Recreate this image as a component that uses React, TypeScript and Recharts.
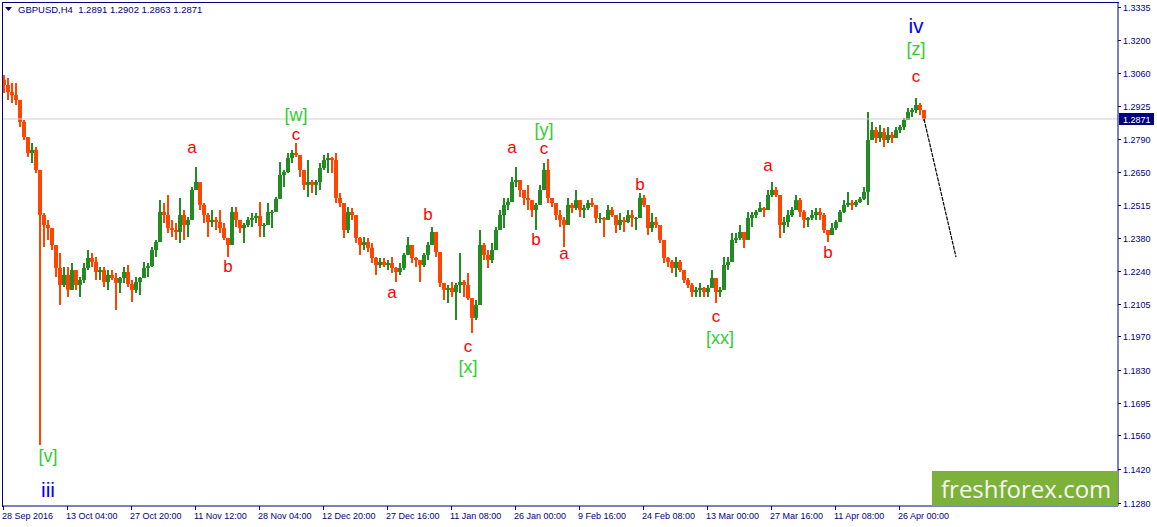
import { ComposedChart, Bar, Line, XAxis, YAxis, ReferenceLine, ReferenceDot } from "recharts"

// last H4 bar: open, high, low, close
const lastBar = [1.2891, 1.2902, 1.2863, 1.2871]
const firstOpen = 1.3033

// each bar = [high, low, close] (one bar here ~ four H4 candles), open = previous close
const octBars = [
  [1.3053, 1.2979, 1.3012], [1.3041, 1.295, 1.2983], [1.302, 1.2937, 1.297], [1.302, 1.2929, 1.295],
  [1.295, 1.2838, 1.2859], [1.2867, 1.2784, 1.2796], [1.2784, 1.2714, 1.273], [1.2772, 1.2689, 1.2743],
  [1.2755, 1.2647, 1.266], [1.266, 1.152, 1.2473], [1.2482, 1.2341, 1.2432], [1.2453, 1.237, 1.2419],
  [1.2411, 1.2328, 1.2349], [1.2341, 1.2216, 1.2254], [1.2316, 1.21, 1.2183], [1.2258, 1.2175, 1.2225],
  [1.2258, 1.2134, 1.2163], [1.2274, 1.2192, 1.2245], [1.2233, 1.2163, 1.2183], [1.2216, 1.2134, 1.2204],
  [1.2274, 1.2192, 1.2254], [1.2328, 1.2245, 1.2295], [1.2316, 1.2258, 1.2279], [1.2299, 1.2204, 1.2237],
  [1.2258, 1.2204, 1.2245], [1.2258, 1.2175, 1.2196], [1.2245, 1.2163, 1.2225], [1.2245, 1.2204, 1.2212],
  [1.2233, 1.208, 1.2192], [1.2216, 1.215, 1.2212], [1.2258, 1.2192, 1.2237], [1.2266, 1.2175, 1.2187],
  [1.2204, 1.2113, 1.2163], [1.2216, 1.215, 1.2196], [1.2216, 1.2142, 1.2212], [1.2279, 1.2216, 1.2254],
]
const novBars = [
  [1.2274, 1.2216, 1.2262], [1.2341, 1.2258, 1.2328], [1.237, 1.2299, 1.2361], [1.2535, 1.239, 1.2486],
  [1.2523, 1.244, 1.2473], [1.2556, 1.2399, 1.2419], [1.2453, 1.2382, 1.2411], [1.244, 1.237, 1.2403],
  [1.2544, 1.2357, 1.2473], [1.2494, 1.237, 1.2432], [1.2465, 1.2382, 1.2453], [1.2589, 1.2506, 1.2577],
  [1.2672, 1.2585, 1.261], [1.2577, 1.2494, 1.2515], [1.2523, 1.244, 1.2473], [1.2482, 1.2382, 1.2444],
  [1.2494, 1.2424, 1.2453], [1.2465, 1.2411, 1.2444], [1.2494, 1.2399, 1.2419], [1.244, 1.237, 1.2378],
  [1.237, 1.2299, 1.2349], [1.2506, 1.2357, 1.2486], [1.2506, 1.2424, 1.2453], [1.244, 1.2399, 1.2419],
  [1.244, 1.2357, 1.2432], [1.2465, 1.2424, 1.2453], [1.2482, 1.2424, 1.2461], [1.2482, 1.244, 1.2469],
  [1.2527, 1.2382, 1.2428], [1.244, 1.2382, 1.2432], [1.2523, 1.244, 1.2486],
]
const decBars = [
  [1.2494, 1.2419, 1.2486], [1.2548, 1.2494, 1.254], [1.2693, 1.2564, 1.2639], [1.266, 1.2589, 1.2651],
  [1.273, 1.2647, 1.2709], [1.2743, 1.2689, 1.273], [1.2772, 1.2714, 1.2722], [1.2689, 1.2631, 1.266],
  [1.266, 1.2577, 1.2598], [1.2701, 1.2548, 1.261], [1.2618, 1.2564, 1.2598], [1.2618, 1.2556, 1.261],
  [1.2689, 1.2577, 1.2668], [1.2722, 1.266, 1.2701], [1.273, 1.2647, 1.2709], [1.2714, 1.2647, 1.2701],
  [1.273, 1.2523, 1.2544], [1.2564, 1.2506, 1.2523], [1.2523, 1.2378, 1.2411], [1.2506, 1.2399, 1.2486],
  [1.2502, 1.2453, 1.2473], [1.2424, 1.2357, 1.2378], [1.2382, 1.2308, 1.2349], [1.2382, 1.2328, 1.2361],
  [1.2378, 1.232, 1.2337], [1.2357, 1.2274, 1.2295], [1.2299, 1.2225, 1.2266], [1.2295, 1.2254, 1.2279],
  [1.2295, 1.2258, 1.2266], [1.2287, 1.2245, 1.2274], [1.2299, 1.2233, 1.2254], [1.2258, 1.2196, 1.2237],
]
const janBars = [
  [1.2274, 1.2225, 1.2254], [1.2316, 1.2245, 1.2308], [1.2382, 1.2316, 1.2349], [1.2341, 1.2274, 1.2295],
  [1.2299, 1.2258, 1.2287], [1.2287, 1.2196, 1.2266], [1.2316, 1.2258, 1.2308], [1.2361, 1.2287, 1.2349],
  [1.2424, 1.2357, 1.2403], [1.2399, 1.2299, 1.232], [1.2316, 1.2175, 1.2192], [1.2192, 1.2121, 1.2163],
  [1.2183, 1.2109, 1.2171], [1.2196, 1.2134, 1.2154], [1.2192, 1.2038, 1.2183], [1.2316, 1.215, 1.2196],
  [1.2204, 1.2134, 1.2183], [1.2233, 1.2121, 1.2129], [1.208, 1.1984, 1.2047], [1.2121, 1.2038, 1.21],
  [1.2411, 1.2216, 1.2349], [1.2357, 1.2287, 1.2308], [1.2328, 1.2254, 1.2287], [1.2357, 1.2274, 1.2328],
  [1.2424, 1.2341, 1.2411], [1.2494, 1.2424, 1.2473], [1.2544, 1.2419, 1.2515], [1.2544, 1.2494, 1.2527],
  [1.2631, 1.2535, 1.261], [1.2672, 1.2589, 1.2618], [1.261, 1.2548, 1.2577], [1.2577, 1.2515, 1.2544],
  [1.2598, 1.2494, 1.2535], [1.2535, 1.2465, 1.2494], [1.2523, 1.2411, 1.2515], [1.2598, 1.2535, 1.2577],
  [1.2689, 1.261, 1.266], [1.2705, 1.2523, 1.2544], [1.2535, 1.2506, 1.2523],
]
const febBars = [
  [1.2523, 1.2453, 1.2473], [1.2494, 1.2424, 1.2453], [1.2465, 1.2341, 1.2432], [1.2544, 1.2453, 1.2515],
  [1.2523, 1.2482, 1.2502], [1.2577, 1.2494, 1.2535], [1.2535, 1.2465, 1.2494], [1.2515, 1.2461, 1.2502],
  [1.2535, 1.2494, 1.2523], [1.2544, 1.2506, 1.2515], [1.2494, 1.244, 1.2461], [1.2482, 1.244, 1.2461],
  [1.2465, 1.2382, 1.2453], [1.2515, 1.2453, 1.2494], [1.2506, 1.2465, 1.2473], [1.2453, 1.2399, 1.2432],
  [1.2482, 1.2411, 1.2453], [1.2465, 1.2403, 1.2444], [1.2494, 1.244, 1.2473], [1.2494, 1.2424, 1.2461],
  [1.2465, 1.2411, 1.2461], [1.2564, 1.2494, 1.2544], [1.2556, 1.2506, 1.2515], [1.2465, 1.239, 1.2419],
  [1.2482, 1.2403, 1.2444],
]
const marBars = [
  [1.2465, 1.2419, 1.2432], [1.2424, 1.2357, 1.237], [1.2328, 1.2274, 1.2295], [1.2299, 1.2258, 1.2279],
  [1.2287, 1.2233, 1.2254], [1.2299, 1.2216, 1.2279], [1.2287, 1.2237, 1.2245], [1.2245, 1.2192, 1.2204],
  [1.2212, 1.2171, 1.2183], [1.2192, 1.2134, 1.2154], [1.2175, 1.2134, 1.2163], [1.2192, 1.2134, 1.2171],
  [1.2175, 1.2134, 1.2154], [1.2183, 1.2134, 1.2171], [1.2245, 1.2192, 1.2212], [1.2204, 1.2109, 1.2154],
  [1.2175, 1.2134, 1.2163], [1.2299, 1.2192, 1.2266], [1.2299, 1.2245, 1.2279], [1.2399, 1.2341, 1.237],
  [1.2399, 1.2357, 1.2378], [1.2432, 1.237, 1.2403], [1.2399, 1.2337, 1.237], [1.2486, 1.2424, 1.2461],
  [1.2486, 1.2424, 1.2473], [1.2494, 1.2461, 1.2486], [1.2527, 1.2486, 1.2502], [1.2506, 1.2465, 1.2494],
  [1.2577, 1.2506, 1.2556], [1.261, 1.2548, 1.2577], [1.2589, 1.2548, 1.2556], [1.2494, 1.2378, 1.2432],
  [1.2465, 1.2399, 1.2444],
]
const aprBars = [
  [1.2494, 1.2424, 1.2473], [1.2506, 1.2465, 1.2494], [1.2556, 1.2506, 1.2535], [1.2544, 1.2465, 1.2486],
  [1.2494, 1.2419, 1.2453], [1.2465, 1.2424, 1.2461], [1.2494, 1.2453, 1.2473], [1.2502, 1.2453, 1.2486],
  [1.2502, 1.2453, 1.2473], [1.2482, 1.2399, 1.2411], [1.2411, 1.2361, 1.239], [1.244, 1.2399, 1.2419],
  [1.2453, 1.2411, 1.2444], [1.2494, 1.2453, 1.2486], [1.2535, 1.2482, 1.2515], [1.2569, 1.2506, 1.2523],
  [1.2535, 1.2494, 1.2515], [1.2535, 1.2506, 1.2527], [1.2548, 1.2523, 1.254], [1.2589, 1.2535, 1.2569],
  [1.29, 1.2515, 1.2784], [1.2859, 1.2796, 1.2825], [1.2838, 1.2772, 1.2792], [1.2846, 1.2776, 1.2817],
  [1.2834, 1.2755, 1.2784], [1.2838, 1.2772, 1.2805], [1.2817, 1.2772, 1.2792], [1.2838, 1.2796, 1.2825],
  [1.2846, 1.2813, 1.2838], [1.2875, 1.2825, 1.2867], [1.2917, 1.2867, 1.29], [1.2917, 1.2879, 1.2908],
  [1.2958, 1.2896, 1.2929], [1.2937, 1.2888, 1.2908], [1.2902, 1.2863, 1.2871],
]

const timeLabels = [
  "28 Sep 2016", "13 Oct 04:00", "27 Oct 20:00", "11 Nov 12:00", "28 Nov 04:00",
  "12 Dec 20:00", "27 Dec 16:00", "11 Jan 08:00", "26 Jan 00:00", "9 Feb 16:00",
  "24 Feb 08:00", "13 Mar 00:00", "27 Mar 16:00", "11 Apr 08:00", "26 Apr 00:00",
]
const priceTicks = [
  1.3335, 1.32, 1.306, 1.2925, 1.279, 1.265, 1.2515, 1.238,
  1.224, 1.2105, 1.197, 1.183, 1.1695, 1.156, 1.142, 1.128,
]

// forecast line from the last close
const projection = [
  { slot: 230, price: 1.2871 },
  { slot: 238, price: 1.2299 },
]

// wave marks, price = text baseline
const waveLabels = [
  { slot: 11, price: 1.145, text: "[v]", degree: "minor" },
  { slot: 11, price: 1.1305, text: "iii", degree: "inter" },
  { slot: 47, price: 1.273, text: "a", degree: "minute" },
  { slot: 56, price: 1.2237, text: "b", degree: "minute" },
  { slot: 73, price: 1.2864, text: "[w]", degree: "minor" },
  { slot: 73, price: 1.2786, text: "c", degree: "minute" },
  { slot: 97, price: 1.2129, text: "a", degree: "minute" },
  { slot: 106, price: 1.2453, text: "b", degree: "minute" },
  { slot: 116, price: 1.1906, text: "c", degree: "minute" },
  { slot: 116, price: 1.1819, text: "[x]", degree: "minor" },
  { slot: 127, price: 1.273, text: "a", degree: "minute" },
  { slot: 133, price: 1.2349, text: "b", degree: "minute" },
  { slot: 135, price: 1.2802, text: "[y]", degree: "minor" },
  { slot: 135, price: 1.2724, text: "c", degree: "minute" },
  { slot: 140, price: 1.2291, text: "a", degree: "minute" },
  { slot: 159, price: 1.2577, text: "b", degree: "minute" },
  { slot: 178, price: 1.203, text: "c", degree: "minute" },
  { slot: 179, price: 1.1939, text: "[xx]", degree: "minor" },
  { slot: 191, price: 1.2656, text: "a", degree: "minute" },
  { slot: 206, price: 1.2295, text: "b", degree: "minute" },
  { slot: 228, price: 1.3024, text: "c", degree: "minute" },
  { slot: 228, price: 1.3136, text: "[z]", degree: "minor" },
  { slot: 228, price: 1.3227, text: "iv", degree: "inter" },
]

const TOTAL_SLOTS = 279
const LABEL_STEP = 16
const UP = "#228b22"
const DOWN = "#ff4500"
const NAVY = "#000080"
const FONT = "'Liberation Sans', Arial, sans-serif"

const degreeStyle = {
  minute: { fill: "#ff0000", fontSize: 17 },
  minor: { fill: "#33cc33", fontSize: 18 },
  inter: { fill: "#0000ff", fontSize: 21 },
}

function buildRows() {
  const bars = [...octBars, ...novBars, ...decBars, ...janBars, ...febBars, ...marBars, ...aprBars]
  const rows = []
  let open = firstOpen
  for (let i = 0; i < TOTAL_SLOTS; i++) {
    const row: any = { slot: i }
    const b = bars[i]
    if (b) {
      const [h, l, c] = b
      row.open = open
      row.close = c
      row.high = Math.max(h, open, c)
      row.low = Math.min(l, open, c)
      row.range = [row.low, row.high]
      open = c
    }
    const p = projection.find((pt) => pt.slot === i)
    if (p) row.proj = p.price
    rows.push(row)
  }
  return rows
}

const rows = buildRows()

function Candle(props) {
  const { x, y, width, height, payload } = props
  if (!payload || payload.open == null) return null
  const { open, close, high, low } = payload
  const k = high > low ? height / (high - low) : 0
  const top = y + (high - Math.max(open, close)) * k
  const bot = y + (high - Math.min(open, close)) * k
  const color = close >= open ? UP : DOWN
  const left = Math.round(x)
  return (
    <g>
      <line x1={left + 2} x2={left + 2} y1={y} y2={y + height} stroke={color} strokeWidth={2} />
      <rect x={left} y={top} width={4} height={Math.max(1, bot - top)} fill={color} />
    </g>
  )
}

function TimeTick({ x, y, payload }) {
  const label = timeLabels[payload.value / LABEL_STEP]
  if (!label) return null
  const tx = Math.round(x) - 1
  return (
    <g>
      <line x1={tx + 0.5} x2={tx + 0.5} y1={y} y2={y + 4} stroke={NAVY} />
      <text x={tx - 1} y={y + 13} fontSize={9} fontFamily={FONT} fill={NAVY}>
        {label}
      </text>
    </g>
  )
}

function PriceTick({ x, y, payload }) {
  const ty = Math.round(y)
  return (
    <g>
      <line x1={x} x2={x + 3} y1={ty + 0.5} y2={ty + 0.5} stroke={NAVY} />
      <text x={x + 5} y={ty + 3.5} fontSize={9} fontFamily={FONT} fill={NAVY}>
        {Number(payload.value).toFixed(4)}
      </text>
    </g>
  )
}

function PriceTag({ viewBox }) {
  if (!viewBox) return null
  const right = viewBox.x + viewBox.width
  const ty = Math.round(viewBox.y)
  return (
    <g>
      <rect x={right + 1} y={ty - 6} width={35} height={12} fill={NAVY} />
      <text x={right + 5} y={ty + 3.5} fontSize={9} fontFamily={FONT} fill="#fff">
        {lastBar[3].toFixed(4)}
      </text>
    </g>
  )
}

function WaveText({ cx, cy, text, degree }) {
  const st = degreeStyle[degree]
  return (
    <text x={cx} y={cy} textAnchor="middle" fontFamily={FONT} fontSize={st.fontSize} fill={st.fill}>
      {text}
    </text>
  )
}

export default function App() {
  return (
    <div style={{ position: "absolute", left: 0, top: 0, width: 1157, height: 527, background: "#fff", overflow: "hidden" }}>
      <ComposedChart
        width={1157}
        height={527}
        data={rows}
        margin={{ top: 2, right: 0, bottom: 0, left: 2 }}
        barCategoryGap={0}
        barGap={0}
      >
        <XAxis
          dataKey="slot"
          type="category"
          ticks={timeLabels.map((_, j) => j * LABEL_STEP)}
          interval={0}
          height={21}
          tickSize={0}
          tickMargin={0}
          tickLine={false}
          axisLine={{ stroke: NAVY }}
          tick={TimeTick}
        />
        <YAxis
          orientation="right"
          type="number"
          domain={[1.12676, 1.33557]}
          allowDataOverflow
          ticks={priceTicks}
          interval={0}
          width={39}
          tickSize={0}
          tickMargin={0}
          tickLine={false}
          axisLine={{ stroke: NAVY }}
          tick={PriceTick}
        />
        <ReferenceLine y={lastBar[3]} stroke="#cfcfcf" label={PriceTag} />
        <Bar dataKey="range" barSize={4} shape={Candle} isAnimationActive={false} />
        <Line
          dataKey="proj"
          connectNulls
          stroke="#000"
          strokeWidth={1.2}
          strokeDasharray="4 1"
          dot={false}
          activeDot={false}
          isAnimationActive={false}
        />
        {waveLabels.map((w, i) => (
          <ReferenceDot
            key={i}
            x={w.slot}
            y={w.price}
            r={0}
            shape={(p) => <WaveText cx={p.cx} cy={p.cy} text={w.text} degree={w.degree} />}
          />
        ))}
      </ComposedChart>

      <div style={{ position: "absolute", left: 2, top: 2, width: 1116, height: 504, borderLeft: `1px solid ${NAVY}`, borderTop: `1px solid ${NAVY}`, pointerEvents: "none" }} />

      <div style={{ position: "absolute", left: 5, top: 4, display: "flex", alignItems: "center", fontFamily: FONT, fontSize: 9.5, color: NAVY, whiteSpace: "pre" }}>
        <svg width={8} height={6} style={{ marginRight: 5 }}>
          <polygon points="0,0 7,0 3.5,4" fill={NAVY} />
        </svg>
        <span>{"GBPUSD,H4  " + lastBar.map((v) => v.toFixed(4)).join(" ")}</span>
      </div>

      <div style={{ position: "absolute", left: 932, top: 471, width: 186, height: 35, background: "#7cb23a", color: "#f6f6ee", fontFamily: "'Open Sans', sans-serif", fontSize: 24, lineHeight: "35px", paddingLeft: 9, boxSizing: "border-box" }}>
        freshforex.com
      </div>
    </div>
  )
}
